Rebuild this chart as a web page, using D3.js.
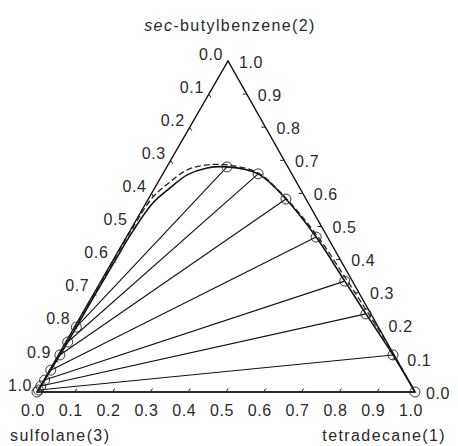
<!DOCTYPE html>
<html>
<head>
<meta charset="utf-8">
<script src="https://cdn.jsdelivr.net/npm/d3@7"></script>
<style>
  body { margin: 0; background: #fff; }
  text { font-family: "Liberation Sans", Arial, sans-serif; fill: #2a2a2a; }
</style>
</head>
<body>
<svg id="chart" width="458" height="446"></svg>
<script>
// ternary: x1 = tetradecane, x2 = sec-butylbenzene, x3 = sulfolane
var tickValues = [0, 0.1, 0.2, 0.3, 0.4, 0.5, 0.6, 0.7, 0.8, 0.9, 1.0];
var tickLabels = ["0.0", "0.1", "0.2", "0.3", "0.4", "0.5", "0.6", "0.7", "0.8", "0.9", "1.0"];

// experimental tie lines: hydrocarbon-rich phase
var raffX1 = [0.159, 0.252, 0.364, 0.502, 0.645, 0.751, 0.885, 1.0];
var raffX2 = [0.680, 0.659, 0.583, 0.468, 0.335, 0.236, 0.112, 0.0];
// sulfolane-rich phase
var extX1 = [0.005, 0.005, 0.004, 0.003, 0.002, 0.001, 0.001, 0.0];
var extX2 = [0.196, 0.151, 0.112, 0.066, 0.036, 0.018, 0.006, 0.0];

// calculated binodal (solid)
var calcX1 = [0, 0.001, 0.002, 0.003, 0.004, 0.005, 0.005, 0.005, 0.006, 0.008, 0.018, 0.040, 0.066, 0.108, 0.159, 0.252, 0.364, 0.502, 0.645, 0.751, 0.885, 1.0];
var calcX2 = [0, 0.006, 0.036, 0.066, 0.112, 0.151, 0.196, 0.30, 0.40, 0.489, 0.571, 0.616, 0.656, 0.677, 0.680, 0.659, 0.583, 0.468, 0.335, 0.236, 0.112, 0];

// second model binodal (dashed)
var dashX1 = [0, 0.001, 0.001, 0.002, 0.002, 0.003, 0.009, 0.031, 0.058, 0.103, 0.156, 0.250, 0.362, 0.505, 0.650, 0.757, 0.890, 1.0];
var dashX2 = [0, 0.05, 0.20, 0.35, 0.45, 0.52, 0.589, 0.634, 0.671, 0.686, 0.686, 0.662, 0.586, 0.470, 0.337, 0.237, 0.110, 0];

var svg = d3.select("#chart");

var left = {x: 37, y: 392}, right = {x: 415, y: 392}, apex = {x: 228, y: 61};
var skew = (apex.x - left.x) / (right.x - left.x);

var x = d3.scaleLinear().domain([0, 1]).range([left.x, right.x]),
    y = d3.scaleLinear().domain([0, 1]).range([left.y, apex.y]);

function px(x1, x2) { return x(x1 + skew * x2); }
function py(x1, x2) { return y(x2); }

function pts(a1, a2) {
  return a1.map(function(d, i) { return [a1[i], a2[i]]; });
}

var line = d3.line()
  .x(function(d) { return px(d[0], d[1]); })
  .y(function(d) { return py(d[0], d[1]); })
  .curve(d3.curveCatmullRom.alpha(0.5));

var g = svg.append("g");

// triangle frame
g.append("path")
  .attr("d", "M" + left.x + "," + left.y + "L" + right.x + "," + right.y + "L" + apex.x + "," + apex.y + "Z")
  .attr("fill", "none")
  .attr("stroke", "#111")
  .attr("stroke-width", 1.4);

// ticks
var tl = 4;
var inner = tickValues.slice(1, -1);
function unit(dx, dy) { var n = Math.sqrt(dx * dx + dy * dy); return [dx / n, dy / n]; }
var dBottom = unit(apex.x - left.x, apex.y - left.y),
    dLeft = unit(right.x - apex.x, right.y - apex.y),
    dRight = [-1, 0];

function drawTicks(cls, pos, dir) {
  g.selectAll("." + cls)
    .data(inner)
    .enter().append("line")
      .attr("class", cls)
      .attr("x1", function(t) { return pos(t)[0]; })
      .attr("y1", function(t) { return pos(t)[1]; })
      .attr("x2", function(t) { return pos(t)[0] + tl * dir[0]; })
      .attr("y2", function(t) { return pos(t)[1] + tl * dir[1]; })
      .attr("stroke", "#222")
      .attr("stroke-width", 1);
}
drawTicks("tb", function(t) { return [px(t, 0), py(t, 0)]; }, dBottom);
drawTicks("tlft", function(t) { return [px(0, 1 - t), py(0, 1 - t)]; }, dLeft);
drawTicks("trt", function(t) { return [px(1 - t, t), py(1 - t, t)]; }, dRight);

// tick labels
g.selectAll(".lb")
  .data(tickValues)
  .enter().append("text")
    .attr("class", "lb")
    .attr("x", function(t) { return px(t, 0) - 4; })
    .attr("y", 416)
    .attr("text-anchor", "middle")
    .style("font-size", "16px")
    .style("letter-spacing", "0.6px")
    .text(function(t, i) { return tickLabels[i]; });

g.selectAll(".ll")
  .data(tickValues)
  .enter().append("text")
    .attr("class", "ll")
    .attr("x", function(t) { return px(0, 1 - t) - 5; })
    .attr("y", function(t) { return py(0, 1 - t) - 7; })
    .attr("dy", "0.35em")
    .attr("text-anchor", "end")
    .style("font-size", "16px")
    .style("letter-spacing", "0.6px")
    .text(function(t, i) { return tickLabels[i]; });

g.selectAll(".lr")
  .data(tickValues)
  .enter().append("text")
    .attr("class", "lr")
    .attr("x", function(t) { return px(1 - t, t) + 11; })
    .attr("y", function(t) { return py(1 - t, t) + 1; })
    .attr("dy", "0.35em")
    .attr("text-anchor", "start")
    .style("font-size", "16px")
    .style("letter-spacing", "0.6px")
    .text(function(t, i) { return tickLabels[i]; });

// component names
var title = svg.append("text")
  .attr("x", 230)
  .attr("y", 31)
  .attr("text-anchor", "middle")
  .style("font-size", "16px")
  .style("letter-spacing", "1.4px");
title.append("tspan").style("font-style", "italic").text("sec");
title.append("tspan").text("-butylbenzene(2)");

svg.append("text")
  .attr("x", 10)
  .attr("y", 441)
  .style("font-size", "16px")
  .style("letter-spacing", "1.4px")
  .text("sulfolane(3)");

svg.append("text")
  .attr("x", 446)
  .attr("y", 441)
  .attr("text-anchor", "end")
  .style("font-size", "16px")
  .style("letter-spacing", "1.4px")
  .text("tetradecane(1)");

// tie lines
var tie = raffX1.map(function(d, i) {
  return {a: [raffX1[i], raffX2[i]], b: [extX1[i], extX2[i]]};
});

g.selectAll(".tie")
  .data(tie)
  .enter().append("line")
    .attr("class", "tie")
    .attr("x1", function(d) { return px(d.a[0], d.a[1]); })
    .attr("y1", function(d) { return py(d.a[0], d.a[1]); })
    .attr("x2", function(d) { return px(d.b[0], d.b[1]); })
    .attr("y2", function(d) { return py(d.b[0], d.b[1]); })
    .attr("stroke", "#111")
    .attr("stroke-width", 1.1);

// binodal curves
g.append("path")
  .datum(pts(dashX1, dashX2))
  .attr("d", line)
  .attr("fill", "none")
  .attr("stroke", "#222")
  .attr("stroke-width", 1.3)
  .attr("stroke-dasharray", "6,3");

g.append("path")
  .datum(pts(calcX1, calcX2))
  .attr("d", line)
  .attr("fill", "none")
  .attr("stroke", "#111")
  .attr("stroke-width", 1.6);

// experimental points
var allPts = pts(raffX1, raffX2).concat(pts(extX1, extX2));
g.selectAll(".pt")
  .data(allPts)
  .enter().append("circle")
    .attr("class", "pt")
    .attr("cx", function(d) { return px(d[0], d[1]); })
    .attr("cy", function(d) { return py(d[0], d[1]); })
    .attr("r", 5)
    .attr("fill", "none")
    .attr("stroke", "#222")
    .attr("stroke-width", 0.9);
</script>
</body>
</html>
